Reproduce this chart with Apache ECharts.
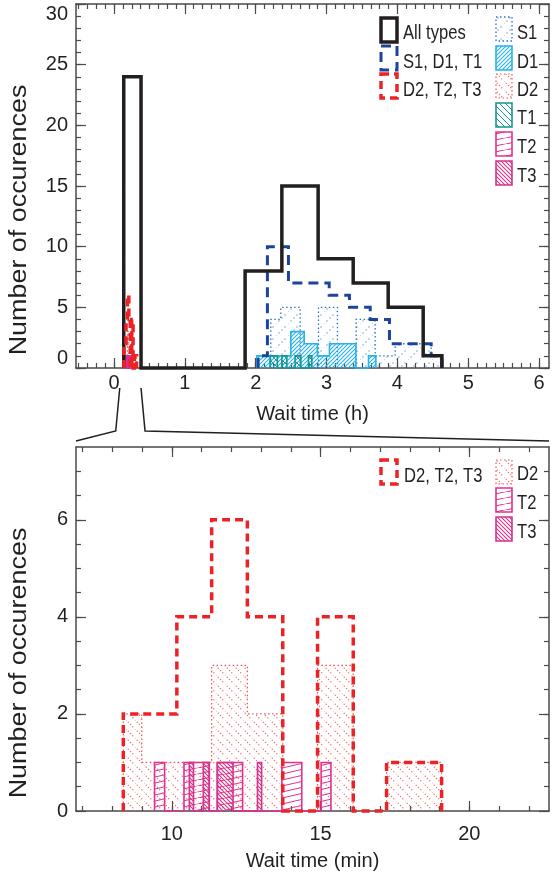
<!DOCTYPE html>
<html>
<head>
<meta charset="utf-8">
<script src="https://cdn.jsdelivr.net/npm/echarts@6/dist/echarts.min.js"></script>
<style>
  html, body { margin: 0; padding: 0; background: #ffffff; }
  #chart { width: 552px; height: 879px; }
</style>
</head>
<body>
<div id="chart"></div>
<script>
// ---- Wait-time histograms (hours) : bin edges and counts ----
const allEdges   = [0.137, 0.381, 1.850, 2.369, 2.881, 3.376, 3.870, 4.364, 4.628];
const allCounts  = [24, 0, 8, 15, 9, 7, 5, 1];

const sdtEdges   = [2.034, 2.165, 2.462, 3.037, 3.323, 3.616, 3.888, 4.477, 4.629];
const sdtCounts  = [1, 10, 7, 6, 5, 4, 2, 1];

const s1Edges    = [2.213, 2.354, 2.627, 2.886, 3.154, 3.418, 3.686, 3.969, 4.477, 4.609];
const s1Counts   = [4, 5, 0, 5, 0, 4, 1, 2, 1];

const d1Edges    = [2.016, 2.496, 2.684, 2.871, 3.041, 3.414, 3.592, 3.696];
const d1Counts   = [1, 3, 2, 1, 2, 0, 1];

const t1Edges    = [2.203, 2.306, 2.369, 2.439, 2.556, 2.637, 2.744, 2.792];
const t1Counts   = [1, 0, 1, 0, 1, 0, 1];

// ---- Short wait times (minutes) : bin edges and counts ----
const dttEdges   = [8.37, 10.17, 11.34, 12.54, 13.73, 14.9, 16.1, 17.22, 19.07];
const dttCounts  = [2, 4, 6, 4, 0, 4, 0, 1];

const d2Edges    = [8.37, 8.99, 11.34, 12.54, 13.73, 14.9, 16.1, 17.22, 19.07];
const d2Counts   = [2, 1, 3, 2, 0, 3, 0, 1];

const t2Edges    = [9.42, 9.76, 10.41, 11.26, 11.53, 12.38, 13.70, 14.37, 15.02, 15.35];
const t2Counts   = [1, 0, 1, 0, 1, 0, 1, 0, 1];

const t3Edges    = [10.59, 10.73, 11.06, 11.26, 11.53, 12.06, 12.88, 13.02];
const t3Counts   = [1, 0, 1, 0, 1, 0, 1];

// ---- Axis ticks ----
const hourTicks   = [0, 1, 2, 3, 4, 5, 6];
const hourMinor   = [];
for (let v = -0.5; v <= 6.1; v += 0.125) hourMinor.push(+v.toFixed(3));
const countTicksTop  = [0, 5, 10, 15, 20, 25, 30];
const countMinorTop  = [];
for (let v = 0; v <= 30; v++) countMinorTop.push(v);
const minuteTicks = [10, 15, 20];
const minuteMinor = [7, 8, 9, 10, 11, 12, 13, 14, 15, 16, 17, 18, 19, 20, 21, 22];
const countTicksBot  = [0, 2, 4, 6];
const countMinorBot  = [0.5, 1, 1.5, 2, 2.5, 3, 3.5, 4, 4.5, 5, 5.5, 6, 6.5, 7];

const toHours = a => a.map(m => m / 60);

// ---- Colours ----
const AX = '#4a4a4a';
const BLACK = '#231f20';
const NAVY = '#1c449c';
const RED = '#ec2227';
const S1C = '#2f74c4';
const D1C = '#27b4e6';
const D2C = '#f0504c';
const T1C = '#18958f';
const T2C = '#e2308f';
const T3C = '#d2358b';
const FONT = 'Liberation Sans, Arial, sans-serif';

// ---- Hatch patterns ----
function hatch(w, h, color, lw, dir, dotted) {
  const c = document.createElement('canvas');
  c.width = w; c.height = h;
  const ctx = c.getContext('2d');
  ctx.strokeStyle = color;
  ctx.fillStyle = color;
  ctx.lineWidth = lw;
  if (dotted) {
    for (let i = 0; i < dotted; i++) {
      const t = i / dotted;
      const x = t * w;
      const y = dir === '/' ? h - t * h : t * h;
      ctx.fillRect(x - 0.6, y - 0.6, 1.2, 1.2);
    }
    return c;
  }
  [[0, 0], [-w, 0], [w, 0], [0, -h], [0, h]].forEach(([dx, dy]) => {
    ctx.beginPath();
    if (dir === '/') { ctx.moveTo(dx, h + dy); ctx.lineTo(w + dx, dy); }
    else { ctx.moveTo(dx, dy); ctx.lineTo(w + dx, h + dy); }
    ctx.stroke();
  });
  return c;
}
const pat = img => ({ image: img, repeat: 'repeat' });
const fillD1 = pat(hatch(4, 4, D1C, 1.1, '/'));
const fillT3 = pat(hatch(4, 4, T3C, 1.1, '\\'));
const fillT1 = pat(hatch(6, 6, T1C, 1, '\\'));
const fillT2 = pat(hatch(28, 6.5, T2C, 1, '/'));
const fillD2 = pat(hatch(9, 9, '#f36a66', 1, '\\', 4));
const fillS1 = pat(hatch(12, 12, '#5b93d6', 1, '/', 4));

// ---- Step-histogram renderer ----
function hist(name, gi, edges, counts, st, z) {
  return {
    type: 'custom', name, xAxisIndex: gi * 4, yAxisIndex: gi * 4, z, silent: true,
    data: [[edges[0], 0]],
    renderItem: (params, api) => {
      const pts = [api.coord([edges[0], 0])];
      for (let i = 0; i < counts.length; i++) {
        pts.push(api.coord([edges[i], counts[i]]));
        pts.push(api.coord([edges[i + 1], counts[i]]));
      }
      pts.push(api.coord([edges[edges.length - 1], 0]));
      const children = [];
      if (st.fill) children.push({ type: 'polygon', shape: { points: pts }, style: { fill: st.fill, stroke: null } });
      children.push({ type: 'polyline', shape: { points: pts },
        style: { fill: null, stroke: st.color, lineWidth: st.width, lineDash: st.dash || null, lineCap: 'butt', lineJoin: 'miter' } });
      return { type: 'group', children };
    }
  };
}

const tickLine = { color: AX, width: 1.2 };
const lineOn = { show: true, onZero: false, lineStyle: { color: AX, width: 1.5 } };
const lineOff = { show: false, onZero: false };
function xAxes(gi, min, max, majors, minors, name, nameGap, labelMargin) {
  const base = { type: 'value', gridIndex: gi, min, max, splitLine: { show: false } };
  return [
    Object.assign({}, base, { position: 'bottom', name, nameLocation: 'middle', nameGap,
      nameTextStyle: { fontFamily: FONT, fontSize: 20, color: '#231f20' },
      axisLine: lineOn,
      axisTick: { show: true, inside: true, length: 10, customValues: majors, lineStyle: tickLine },
      axisLabel: { show: true, customValues: majors, margin: labelMargin, fontFamily: FONT, fontSize: 20, color: '#231f20' } }),
    Object.assign({}, base, { position: 'bottom', axisLine: lineOff,
      axisTick: { show: true, inside: true, length: 5, customValues: minors, lineStyle: tickLine },
      axisLabel: { show: false } }),
    Object.assign({}, base, { position: 'top', axisLine: lineOn,
      axisTick: { show: true, inside: true, length: 10, customValues: majors, lineStyle: tickLine },
      axisLabel: { show: false } }),
    Object.assign({}, base, { position: 'top', axisLine: lineOff,
      axisTick: { show: true, inside: true, length: 5, customValues: minors, lineStyle: tickLine },
      axisLabel: { show: false } })
  ];
}
function yAxes(gi, min, max, majors, minors, labelExtra) {
  const base = { type: 'value', gridIndex: gi, min, max, splitLine: { show: false } };
  return [
    Object.assign({}, base, { position: 'left',
      axisLine: lineOn,
      axisTick: { show: true, inside: true, length: 10, customValues: majors, lineStyle: tickLine },
      axisLabel: Object.assign({ show: true, customValues: majors, margin: 8, fontFamily: FONT, fontSize: 20, color: '#231f20' }, labelExtra) }),
    Object.assign({}, base, { position: 'left', axisLine: lineOff,
      axisTick: { show: true, inside: true, length: 5, customValues: minors, lineStyle: tickLine },
      axisLabel: { show: false } }),
    Object.assign({}, base, { position: 'right', axisLine: lineOn,
      axisTick: { show: true, inside: true, length: 10, customValues: majors, lineStyle: tickLine },
      axisLabel: { show: false } }),
    Object.assign({}, base, { position: 'right', axisLine: lineOff,
      axisTick: { show: true, inside: true, length: 5, customValues: minors, lineStyle: tickLine },
      axisLabel: { show: false } })
  ];
}

const styles = {
  all: { color: BLACK, width: 3.5 },
  sdt: { color: NAVY, width: 3, dash: [10, 6] },
  dtt: { color: RED, width: 3.5, dash: [8, 5] },
  s1: { color: S1C, width: 1.3, dash: [1.5, 2.5], fill: fillS1 },
  d1: { color: D1C, width: 1.6, fill: fillD1 },
  d2: { color: D2C, width: 1.2, dash: [1.5, 2.5], fill: fillD2 },
  t1: { color: T1C, width: 1.6, fill: fillT1 },
  t2: { color: T2C, width: 1.6, fill: fillT2 },
  t3: { color: T3C, width: 1.6, fill: fillT3 }
};

const series = [
  // upper panel (hours)
  hist('S1', 0, s1Edges, s1Counts, styles.s1, 2),
  hist('D1', 0, d1Edges, d1Counts, styles.d1, 3),
  hist('D2', 0, toHours(d2Edges), d2Counts, styles.d2, 3),
  hist('T1', 0, t1Edges, t1Counts, styles.t1, 4),
  hist('T2', 0, toHours(t2Edges), t2Counts, styles.t2, 4),
  hist('T3', 0, toHours(t3Edges), t3Counts, styles.t3, 5),
  hist('S1, D1, T1', 0, sdtEdges, sdtCounts, styles.sdt, 6),
  hist('All types', 0, allEdges, allCounts, styles.all, 7),
  hist('D2, T2, T3', 0, toHours(dttEdges), dttCounts, styles.dtt, 8),
  // lower panel (minutes)
  hist('D2', 1, d2Edges, d2Counts, styles.d2, 3),
  hist('T2', 1, t2Edges, t2Counts, styles.t2, 4),
  hist('T3', 1, t3Edges, t3Counts, styles.t3, 5),
  hist('D2, T2, T3', 1, dttEdges, dttCounts, styles.dtt, 8)
];

// ---- Legend drawn as graphic boxes + condensed text ----
function legendBox(x, y, st) {
  return { type: 'rect', shape: { x, y, width: 16, height: 24 },
    style: { fill: st.fill || null, stroke: st.color, lineWidth: st.width, lineDash: st.dash || null }, z: 100 };
}
function legendText(x, y, text) {
  return { type: 'text', x, y, scaleX: 0.83,
    style: { text, fontFamily: FONT, fontSize: 20, fill: '#231f20', verticalAlign: 'middle' }, z: 100 };
}
// vertical axis titles (stretched along the text direction)
function yTitle(y) {
  return { type: 'text', x: 20, y, rotation: Math.PI / 2, scaleX: 1.17,
    style: { text: 'Number of occurences', fontFamily: FONT, fontSize: 23, fill: '#231f20',
      align: 'center', verticalAlign: 'middle' }, z: 100 };
}
const legendItems = [
  legendBox(381, 18, styles.all), legendText(403, 33, 'All types'),
  legendBox(381, 46, styles.sdt), legendText(403, 62, 'S1, D1, T1'),
  legendBox(381, 74, styles.dtt), legendText(403, 90, 'D2, T2, T3'),
  legendBox(496, 17, styles.s1), legendText(517, 33, 'S1'),
  legendBox(496, 46, styles.d1), legendText(517, 62, 'D1'),
  legendBox(496, 74, styles.d2), legendText(517, 90, 'D2'),
  legendBox(496, 103, styles.t1), legendText(517, 118, 'T1'),
  legendBox(496, 132, styles.t2), legendText(517, 147, 'T2'),
  legendBox(496, 161, styles.t3), legendText(517, 176, 'T3'),
  legendBox(381, 460, styles.dtt), legendText(404, 476, 'D2, T2, T3'),
  legendBox(496, 460, styles.d2), legendText(517, 474, 'D2'),
  legendBox(496, 488, styles.t2), legendText(517, 503, 'T2'),
  legendBox(496, 517, styles.t3), legendText(517, 532, 'T3'),
  yTitle(220), yTitle(663)
];

const chart = echarts.init(document.getElementById('chart'), null, { renderer: 'canvas' });
const option = {
  animation: false,
  backgroundColor: '#ffffff',
  grid: [
    { left: 76, right: 3, top: 4, bottom: 511 },
    { left: 76, right: 3, top: 447, bottom: 68 }
  ],
  xAxis: [].concat(
    xAxes(0, -0.537, 6.14, hourTicks, hourMinor, 'Wait time (h)', 36, 5),
    xAxes(1, 6.78, 22.68, minuteTicks, minuteMinor, 'Wait time (min)', 40, 13)
  ),
  yAxis: [].concat(
    yAxes(0, 0, 30, countTicksTop, countMinorTop,
      { verticalAlignMinLabel: 'bottom', verticalAlignMaxLabel: 'top' }),
    yAxes(1, 0, 7.5, countTicksBot, countMinorBot, {})
  ),
  series,
  graphic: legendItems
};
chart.setOption(option);

// ---- Zoom connector from the upper bin to the lower panel ----
const pL = chart.convertToPixel({ xAxisIndex: 0, yAxisIndex: 0 }, [allEdges[0], 0]);
const pR = chart.convertToPixel({ xAxisIndex: 0, yAxisIndex: 0 }, [allEdges[1], 0]);
const lowL = chart.convertToPixel({ xAxisIndex: 4, yAxisIndex: 4 }, [6.78, 7.5]);
const lowR = chart.convertToPixel({ xAxisIndex: 4, yAxisIndex: 4 }, [22.68, 7.5]);
const yTop = pL[1] + 20, yMid = pL[1] + 63, yEnd = lowL[1] - 6;
chart.setOption({
  graphic: legendItems.concat([
    { type: 'polyline', shape: { points: [[pL[0] - 4, yTop], [pL[0] - 8, yMid], [lowL[0], yEnd]] },
      style: { stroke: BLACK, lineWidth: 1.5, fill: null }, z: 100 },
    { type: 'polyline', shape: { points: [[pR[0], yTop], [pR[0] + 4, yMid], [lowR[0], yEnd]] },
      style: { stroke: BLACK, lineWidth: 1.5, fill: null }, z: 100 }
  ])
});
</script>
</body>
</html>
